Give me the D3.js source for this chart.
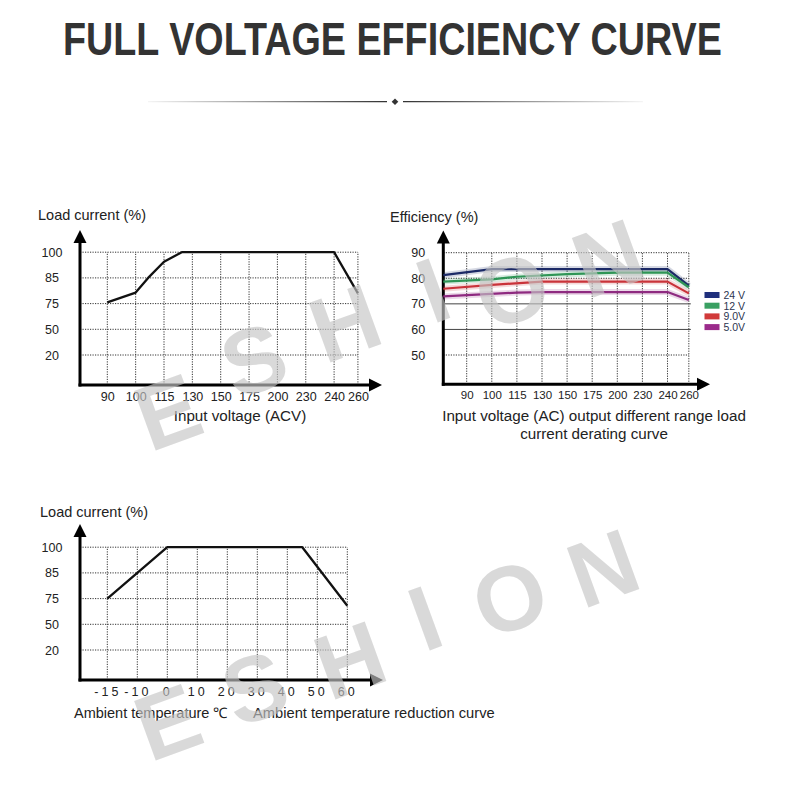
<!DOCTYPE html>
<html><head><meta charset="utf-8">
<script src="https://cdn.jsdelivr.net/npm/d3@7"></script>
<style>body{margin:0;background:#fff}svg{display:block}</style>
</head><body>
<svg id="c" width="790" height="809"></svg>
<script>
// ---------------- DATA ----------------
const titleText = "FULL VOLTAGE EFFICIENCY CURVE";
const voltageTicks = [90, 100, 115, 130, 150, 175, 200, 230, 240, 260];
const loadTicks = [20, 50, 75, 85, 100];
const tempTicks = [-15, -10, 0, 10, 20, 30, 40, 50, 60];
const effTicks = [50, 60, 70, 80, 90];

// chart 1: load current (%) vs input voltage
const loadVsVoltage = [[90, 75.5], [100, 79.3], [106.6, 85], [115, 94.4], [124.4, 100], [240, 100], [260, 79]];
// chart 2: efficiency (%) vs input voltage per output
const seriesNames = ["24 V", "12 V", "9.0V", "5.0V"];
const eff24 = [[80, 81.2], [100, 83.6], [240, 83.6], [260, 77.1]];
const eff12 = [[80, 78.7], [100, 79.6], [115, 80.6], [150, 81.6], [200, 82.2], [240, 82.2], [260, 76.5]];
const eff9 = [[80, 75.9], [100, 77.4], [130, 78.7], [240, 78.7], [260, 74.1]];
const eff5 = [[80, 72.9], [115, 74.4], [130, 74.6], [240, 74.6], [260, 71.5]];
const seriesColors = ["#1c2a66", "#2f9556", "#c9333a", "#8e2a80"];
const legendColors = ["#1f2f7c", "#3aa062", "#d13a3a", "#9b2b8b"];
// chart 3: load current (%) vs ambient temperature
const loadVsTemp = [[-15, 75], [0, 100], [45, 100], [60, 68]];
const watermark = ["E", "S", "H", "I", "O", "N"];

// ---------------- DRAW ----------------
const svg = d3.select("#c");
const FONT = "'Liberation Sans', Arial, sans-serif";

// title (condensed by horizontal scaling to the reference width)
const title = svg.append("text").attr("x", 0).attr("y", 0)
  .attr("font-family", FONT).attr("font-weight", "bold").attr("font-size", 46)
  .attr("fill", "#333").text(titleText);
const tw = title.node().getComputedTextLength();
title.attr("transform", `translate(63,55) scale(${659 / tw},1)`);

// separator
const defs = svg.append("defs");
function grad(id, x1, x2) {
  const g = defs.append("linearGradient").attr("id", id).attr("gradientUnits", "userSpaceOnUse")
    .attr("x1", x1).attr("x2", x2).attr("y1", 0).attr("y2", 0);
  g.append("stop").attr("offset", 0).attr("stop-color", "#333").attr("stop-opacity", 0.05);
  g.append("stop").attr("offset", 1).attr("stop-color", "#333").attr("stop-opacity", 1);
}
grad("gl", 148, 387); grad("gr", 643, 403);
svg.append("line").attr("x1", 148).attr("x2", 387).attr("y1", 101.7).attr("y2", 101.7).attr("stroke", "url(#gl)").attr("stroke-width", 1.3);
svg.append("line").attr("x1", 403).attr("x2", 643).attr("y1", 101.7).attr("y2", 101.7).attr("stroke", "url(#gr)").attr("stroke-width", 1.3);
svg.append("path").attr("d", "M395,98.4 L398.3,101.7 L395,105 L391.7,101.7 Z").attr("fill", "#333");

function catRange(origin, first, step, n, lastFactor) {
  const r = [origin];
  for (let i = 0; i < n; i++) {
    if (i < n - 1) r.push(first + i * step);
    else r.push(first + (i - 1) * step + step * lastFactor);
  }
  return r;
}

function axesArrows(g, ox, oy, yTip, xTip) {
  g.append("line").attr("x1", ox).attr("x2", ox).attr("y1", oy + 1.5).attr("y2", yTip + 10).attr("stroke", "#000").attr("stroke-width", 3);
  g.append("line").attr("x1", ox - 1.5).attr("x2", xTip - 10).attr("y1", oy).attr("y2", oy).attr("stroke", "#000").attr("stroke-width", 3);
  g.append("path").attr("d", `M${ox},${yTip} L${ox + 6.5},${yTip + 13} L${ox - 6.5},${yTip + 13} Z`).attr("fill", "#000");
  g.append("path").attr("d", `M${xTip},${oy} L${xTip - 13},${oy - 6.5} L${xTip - 13},${oy + 6.5} Z`).attr("fill", "#000");
}

function grid(g, x, y, xt, yt, ox, oy, solidSet) {
  const xr = x(xt[xt.length - 1]), yr = y(yt[yt.length - 1]);
  xt.forEach(v => g.append("line").attr("x1", x(v)).attr("x2", x(v)).attr("y1", oy).attr("y2", yr)
    .attr("stroke", "#333").attr("stroke-width", 1).attr("stroke-dasharray", "1.2,1.3"));
  yt.forEach(v => {
    const solid = solidSet && solidSet.includes(v);
    g.append("line").attr("x1", ox).attr("x2", xr + (solid ? 2 : 0)).attr("y1", y(v)).attr("y2", y(v))
      .attr("stroke", solid ? "#444" : "#333").attr("stroke-width", 1)
      .attr("stroke-dasharray", solid ? null : "1.2,1.3");
  });
}

function styleAxis(sel, size, ls) {
  sel.select(".domain").remove();
  sel.selectAll("text").attr("font-family", FONT).attr("font-size", size).attr("fill", "#222");
  if (ls) sel.selectAll("text").attr("letter-spacing", ls);
}

const LBL = 15.2, YLBL = 14.5;

// ---------- chart 1 ----------
{
  const ox = 80, oy = 385;
  const x = d3.scaleLinear().domain([80].concat(voltageTicks)).range(catRange(ox, 107.3, 28.35, voltageTicks.length, 0.84));
  const y = d3.scaleLinear().domain([0].concat(loadTicks)).range([oy, oy - 30, oy - 55.7, oy - 81.4, oy - 107.1, oy - 132.8]);
  const g = svg.append("g");
  grid(g, x, y, voltageTicks, loadTicks, ox, oy);
  axesArrows(g, ox, oy, 230, 382);
  const xa = g.append("g").attr("transform", `translate(0,${oy})`)
    .call(d3.axisBottom(x).tickValues(voltageTicks).tickSize(0).tickPadding(7).tickFormat(d => d));
  styleAxis(xa, 12.5);
  const ya = g.append("g").attr("transform", `translate(${ox},0)`)
    .call(d3.axisLeft(y).tickValues(loadTicks).tickSize(0).tickFormat(d => d));
  styleAxis(ya, 12.5);
  ya.selectAll("text").attr("text-anchor", "middle").attr("x", -28);
  g.append("path").datum(loadVsVoltage).attr("fill", "none").attr("stroke", "#111").attr("stroke-width", 2.3)
    .attr("stroke-linejoin", "round").attr("d", d3.line().x(d => x(d[0])).y(d => y(d[1])));
  g.append("text").attr("x", 38).attr("y", 220).attr("font-family", FONT).attr("font-size", YLBL).attr("fill", "#222").text("Load current (%)");
  g.append("text").attr("x", 240).attr("y", 421).attr("text-anchor", "middle").attr("font-family", FONT).attr("font-size", LBL).attr("fill", "#222").text("Input voltage (ACV)");
}

// ---------- chart 2 ----------
{
  const ox = 443.3, oy = 384.3;
  const x = d3.scaleLinear().domain([80].concat(voltageTicks)).range(catRange(ox, 466.7, 25.1, voltageTicks.length, 0.85));
  const y = d3.scaleLinear().domain([50, 90]).range([355, 252.7]);
  const g = svg.append("g");
  grid(g, x, y, voltageTicks, effTicks, ox, oy, [60, 70]);
  axesArrows(g, ox, oy, 230.5, 710);
  const xa = g.append("g").attr("transform", `translate(0,${oy})`)
    .call(d3.axisBottom(x).tickValues(voltageTicks).tickSize(0).tickPadding(7).tickFormat(d => d));
  styleAxis(xa, 11.5);
  const ya = g.append("g").attr("transform", `translate(${ox},0)`)
    .call(d3.axisLeft(y).tickValues(effTicks).tickSize(0).tickFormat(d => d));
  styleAxis(ya, 12.5);
  ya.selectAll("text").attr("text-anchor", "middle").attr("x", -25);
  const line = d3.line().x(d => x(d[0])).y(d => y(d[1]));
  const all = [eff24, eff12, eff9, eff5];
  all.forEach((s, i) => {
    g.append("path").datum(s).attr("fill", "none").attr("stroke", seriesColors[i]).attr("stroke-opacity", 0.18)
      .attr("stroke-width", 6).attr("stroke-linejoin", "round").attr("d", line);
  });
  all.forEach((s, i) => {
    g.append("path").datum(s).attr("fill", "none").attr("stroke", seriesColors[i])
      .attr("stroke-width", 2.2).attr("stroke-linejoin", "round").attr("d", line);
  });
  const lg = g.append("g");
  seriesNames.forEach((n, i) => {
    const cy = 295 + i * 10.7;
    lg.append("rect").attr("x", 704.5).attr("y", cy - 3).attr("width", 15).attr("height", 6).attr("fill", legendColors[i]);
    lg.append("text").attr("x", 723.5).attr("y", cy + 3.8).attr("font-family", FONT).attr("font-size", 10.5).attr("fill", "#2c3550").text(n);
  });
  g.append("text").attr("x", 390).attr("y", 222).attr("font-family", FONT).attr("font-size", YLBL).attr("fill", "#222").text("Efficiency (%)");
  g.append("text").attr("x", 594).attr("y", 421).attr("text-anchor", "middle").attr("font-family", FONT).attr("font-size", LBL).attr("fill", "#222").text("Input voltage (AC) output different range load");
  g.append("text").attr("x", 594).attr("y", 439).attr("text-anchor", "middle").attr("font-family", FONT).attr("font-size", LBL).attr("fill", "#222").text("current derating curve");
}

// ---------- chart 3 ----------
{
  const ox = 80, oy = 680;
  const x = d3.scaleLinear().domain(tempTicks).range(tempTicks.map((d, i) => 107.3 + i * 30));
  const y = d3.scaleLinear().domain([0].concat(loadTicks)).range([oy, oy - 30, oy - 55.7, oy - 81.4, oy - 107.1, oy - 132.8]);
  const g = svg.append("g");
  grid(g, x, y, tempTicks, loadTicks, ox, oy);
  axesArrows(g, ox, oy, 524, 383);
  const xa = g.append("g").attr("transform", `translate(0,${oy})`)
    .call(d3.axisBottom(x).tickValues(tempTicks).tickSize(0).tickPadding(7).tickFormat(d => d));
  styleAxis(xa, 12.5, 3);
  const ya = g.append("g").attr("transform", `translate(${ox},0)`)
    .call(d3.axisLeft(y).tickValues(loadTicks).tickSize(0).tickFormat(d => d));
  styleAxis(ya, 12.5);
  ya.selectAll("text").attr("text-anchor", "middle").attr("x", -28);
  g.append("path").datum(loadVsTemp).attr("fill", "none").attr("stroke", "#111").attr("stroke-width", 2.3)
    .attr("stroke-linejoin", "round").attr("d", d3.line().x(d => x(d[0])).y(d => y(d[1])));
  g.append("text").attr("x", 40).attr("y", 517).attr("font-family", FONT).attr("font-size", YLBL).attr("fill", "#222").text("Load current (%)");
  g.append("text").attr("x", 74).attr("y", 718).attr("font-family", FONT).attr("font-size", 14.5).attr("fill", "#222").text("Ambient temperature ℃");
  g.append("text").attr("x", 253).attr("y", 718).attr("font-family", FONT).attr("font-size", 14.7).attr("fill", "#222").text("Ambient temperature reduction curve");
}

// ---------- watermark ----------
const wmRows = [
  [[168, 412], [254, 360], [345, 323], [433, 290], [512, 290], [608, 258]],
  [[168, 722], [255, 688], [350, 660], [425, 618], [510, 598], [603, 568]]
];
wmRows.forEach(row => {
  row.forEach((p, i) => {
    svg.append("text").attr("transform", `translate(${p[0]},${p[1]}) rotate(-20)`)
      .attr("text-anchor", "middle").attr("dominant-baseline", "central")
      .attr("font-family", FONT).attr("font-weight", "bold").attr("font-size", 92)
      .attr("fill", "#c4c4c4").attr("fill-opacity", 0.65).text(watermark[i]);
  });
});
</script>
</body></html>
